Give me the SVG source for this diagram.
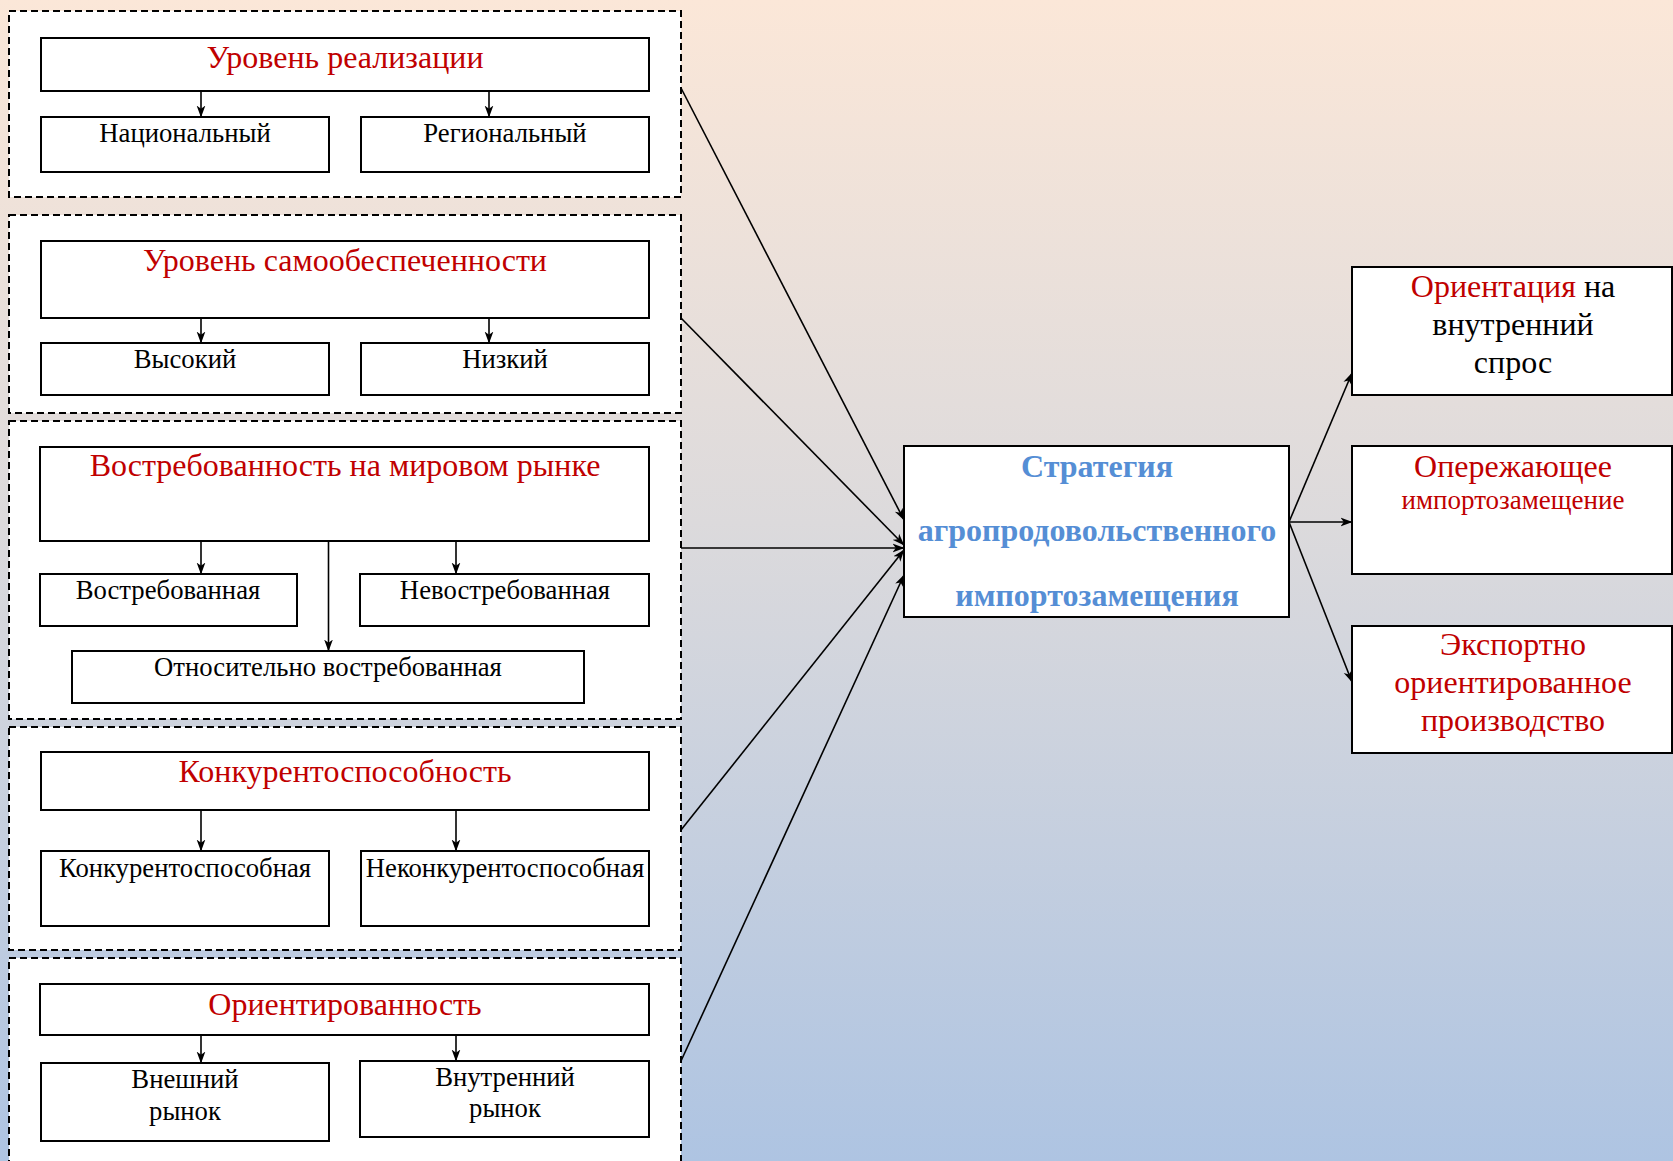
<svg xmlns="http://www.w3.org/2000/svg" width="1673" height="1161" viewBox="0 0 1673 1161">
<defs>
<linearGradient id="bg" x1="0" y1="0" x2="0" y2="1">
<stop offset="0" stop-color="#fbe7d8"/>
<stop offset="0.45" stop-color="#dcdadc"/>
<stop offset="1" stop-color="#aec4e2"/>
</linearGradient>
<marker id="ah" markerUnits="userSpaceOnUse" markerWidth="12" markerHeight="10" viewBox="0 0 11 8" refX="10.5" refY="4" orient="auto">
<path d="M0,0 L11,4 L0,8 L3,4 z" fill="#000"/>
</marker>
<style>
.grp{fill:#fff;stroke:#000;stroke-width:2;stroke-dasharray:7 4}
.box{fill:#fff;stroke:#000;stroke-width:2}
.t{font-family:"Liberation Serif","Times New Roman",serif;text-anchor:middle}
.h{font-size:32px;fill:#c00000}
.s{font-size:26.7px;fill:#000}
.r{font-size:32px}
.red{fill:#c00000}
.blk{fill:#000}
.c{font-size:32px;font-weight:bold;fill:#558ed5}
.ln{stroke:#000;stroke-width:1.6;fill:none;marker-end:url(#ah)}
</style>
</defs>
<rect x="0" y="0" width="1673" height="1161" fill="url(#bg)"/>

<g id="group-realization">
<rect class="grp" x="9" y="11" width="672" height="186"/>
<g id="n-realization"><rect class="box" x="41" y="38" width="608" height="53"/><text class="t h" x="345" y="68">Уровень реализации</text></g>
<g id="n-national"><rect class="box" x="41" y="117" width="288" height="55"/><text class="t s" x="185" y="142">Национальный</text></g>
<g id="n-regional"><rect class="box" x="361" y="117" width="288" height="55"/><text class="t s" x="505" y="142">Региональный</text></g>
</g>

<g id="group-selfsufficiency">
<rect class="grp" x="9" y="215" width="672" height="198"/>
<g id="n-selfsufficiency"><rect class="box" x="41" y="241" width="608" height="77"/><text class="t h" x="345" y="271">Уровень самообеспеченности</text></g>
<g id="n-high"><rect class="box" x="41" y="343" width="288" height="52"/><text class="t s" x="185" y="368">Высокий</text></g>
<g id="n-low"><rect class="box" x="361" y="343" width="288" height="52"/><text class="t s" x="505" y="368">Низкий</text></g>
</g>

<g id="group-demand">
<rect class="grp" x="9" y="421" width="672" height="298"/>
<g id="n-demand"><rect class="box" x="40" y="447" width="609" height="94"/><text class="t h" x="345" y="476">Востребованность на мировом рынке</text></g>
<g id="n-demanded"><rect class="box" x="40" y="574" width="257" height="52"/><text class="t s" x="168" y="599">Востребованная</text></g>
<g id="n-undemanded"><rect class="box" x="360" y="574" width="289" height="52"/><text class="t s" x="505" y="599">Невостребованная</text></g>
<g id="n-relative"><rect class="box" x="72" y="651" width="512" height="52"/><text class="t s" x="328" y="676">Относительно востребованная</text></g>
</g>

<g id="group-competitiveness">
<rect class="grp" x="9" y="727" width="672" height="223"/>
<g id="n-competitiveness"><rect class="box" x="41" y="752" width="608" height="58"/><text class="t h" x="345" y="782">Конкурентоспособность</text></g>
<g id="n-competitive"><rect class="box" x="41" y="851" width="288" height="75"/><text class="t s" x="185" y="877">Конкурентоспособная</text></g>
<g id="n-uncompetitive"><rect class="box" x="361" y="851" width="288" height="75"/><text class="t s" x="505" y="877">Неконкурентоспособная</text></g>
</g>

<g id="group-orientation">
<rect class="grp" x="9" y="958" width="672" height="230"/>
<g id="n-orientation"><rect class="box" x="40" y="984" width="609" height="51"/><text class="t h" x="345" y="1015">Ориентированность</text></g>
<g id="n-external"><rect class="box" x="41" y="1063" width="288" height="78"/><text class="t s" x="185" y="1088">Внешний</text><text class="t s" x="185" y="1120">рынок</text></g>
<g id="n-internal"><rect class="box" x="360" y="1061" width="289" height="76"/><text class="t s" x="505" y="1086">Внутренний</text><text class="t s" x="505" y="1117">рынок</text></g>
</g>

<g id="n-strategy">
<rect class="box" x="904" y="446" width="385" height="171"/>
<text class="t c" x="1097" y="477">Стратегия</text>
<text class="t c" x="1097" y="541">агропродовольственного</text>
<text class="t c" x="1097" y="606">импортозамещения</text>
</g>

<g id="n-domestic">
<rect class="box" x="1352" y="267" width="320" height="128"/>
<text class="t r" x="1513" y="297"><tspan class="red">Ориентация</tspan><tspan class="blk"> на</tspan></text>
<text class="t r blk" x="1513" y="335">внутренний</text>
<text class="t r blk" x="1513" y="373">спрос</text>
</g>

<g id="n-advance">
<rect class="box" x="1352" y="446" width="320" height="128"/>
<text class="t r red" x="1513" y="477">Опережающее</text>
<text class="t red" style="font-size:27px" x="1513" y="509">импортозамещение</text>
</g>

<g id="n-export">
<rect class="box" x="1352" y="626" width="320" height="127"/>
<text class="t r red" x="1513" y="655">Экспортно</text>
<text class="t r red" x="1513" y="693">ориентированное</text>
<text class="t r red" x="1513" y="731">производство</text>
</g>

<g id="connectors">
<line class="ln" x1="201" y1="91" x2="201" y2="117"/>
<line class="ln" x1="489" y1="91" x2="489" y2="117"/>
<line class="ln" x1="201" y1="318" x2="201" y2="343"/>
<line class="ln" x1="489" y1="318" x2="489" y2="343"/>
<line class="ln" x1="201" y1="541" x2="201" y2="574"/>
<line class="ln" x1="456" y1="541" x2="456" y2="574"/>
<line class="ln" x1="328.5" y1="541" x2="328.5" y2="651"/>
<line class="ln" x1="201" y1="810" x2="201" y2="851"/>
<line class="ln" x1="456" y1="810" x2="456" y2="851"/>
<line class="ln" x1="201" y1="1035" x2="201" y2="1063"/>
<line class="ln" x1="456" y1="1035" x2="456" y2="1061"/>
<line class="ln" x1="681" y1="88" x2="904" y2="520"/>
<line class="ln" x1="681" y1="318" x2="904" y2="545"/>
<line class="ln" x1="681" y1="548" x2="904" y2="548"/>
<line class="ln" x1="681" y1="830" x2="904" y2="550"/>
<line class="ln" x1="681" y1="1061" x2="904" y2="575"/>
<line class="ln" x1="1289" y1="522" x2="1352" y2="373"/>
<line class="ln" x1="1289" y1="522" x2="1352" y2="522"/>
<line class="ln" x1="1289" y1="522" x2="1352" y2="682"/>
</g>
</svg>
